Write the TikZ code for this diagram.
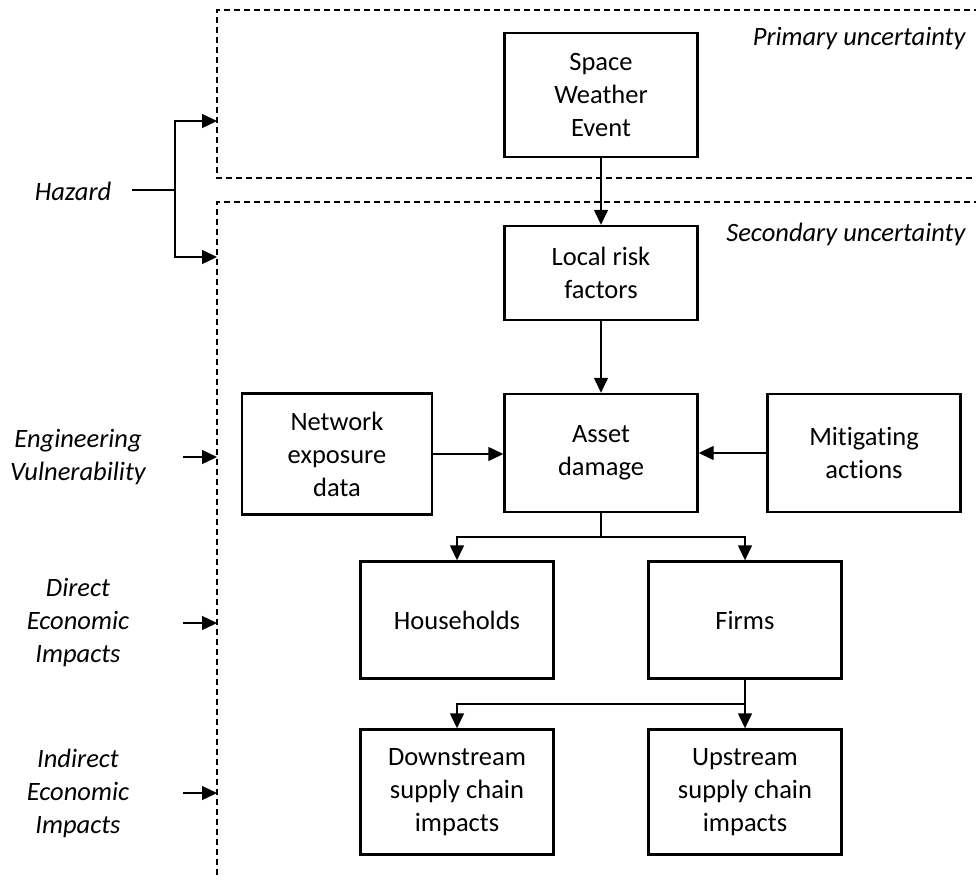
\documentclass[tikz,border=0pt]{standalone}
\usepackage{fontspec}
\setmainfont{Carlito}[Ligatures=NoCommon]
\usetikzlibrary{arrows.meta}

\begin{document}
\begin{tikzpicture}[
            x=1pt, y=-1pt,
            every node/.append style={black,font=\fontsize{26.5}{33}\selectfont},
            stage/.style={draw,line width=2.4pt,align=center,minimum width=193pt,inner sep=0pt},
            zone/.style={draw,line width=1.2pt,dash pattern=on 6pt off 4pt},
            level/.style={align=center,font=\fontsize{26.5}{33}\selectfont\itshape},
            link/.style={line width=1.4pt},
            tip/.style={link,-{Triangle[length=15pt,width=14pt]}}
        ]
            \clip (0,0) rectangle (976,880);
            % uncertainty zones
            \draw[zone] (990,10) -- (217,10) -- (217,178) -- (990,178);
            \draw[zone] (990,202) -- (217,202) -- (217,878);
            \node[level,anchor=east] (primarylabel) at (969,39) {Primary uncertainty};
            \node[level,anchor=east] (secondarylabel) at (969,234) {Secondary uncertainty};

            % chain of boxes
            \node[stage,minimum height=124pt] (event) at (601,95) {Space\\Weather\\Event};
            \node[stage,minimum height=94pt] (risk) at (601,273) {Local risk\\factors};
            \node[stage,minimum height=118pt] (damage) at (601,453) {Asset\\damage};
            \node[stage,minimum width=190pt,minimum height=121pt] (network) at (337,454) {Network\\exposure\\data};
            \node[stage,minimum height=118pt] (mitigation) at (864,453) {Mitigating\\actions};
            \node[stage,minimum height=117pt] (households) at (457,620) {Households};
            \node[stage,minimum height=117pt] (firms) at (745,620) {Firms};
            \node[stage,minimum height=125pt] (downstream) at (457,792) {Downstream\\supply chain\\impacts};
            \node[stage,minimum height=125pt] (upstream) at (745,792) {Upstream\\supply chain\\impacts};

            \draw[tip] (event) -- (risk);
            \draw[tip] (risk) -- (damage);
            \draw[tip] (network.east) -- (network.east -| damage.west);
            \draw[tip] (mitigation.west) -- (mitigation.west -| damage.east);
            \coordinate (split) at (601,537);
            \draw[link] (damage) -- (split);
            \draw[tip] (split) -| (households);
            \draw[tip] (split) -| (firms);
            \coordinate (supply) at (745,704);
            \draw[tip] (firms) -- (upstream);
            \draw[tip] (supply) -| (downstream);

            % levels on the left
            \node[level] (hazard) at (73,191) {Hazard};
            \node[level] (engineering) at (78,457) {Engineering\\Vulnerability};
            \node[level] (direct) at (78,623) {Direct\\Economic\\Impacts};
            \node[level] (indirect) at (78,793) {Indirect\\Economic\\Impacts};

            \coordinate (gutter) at (183,0);
            \coordinate (edge) at (217,0);
            \coordinate (hazardout) at (132,190);
            \coordinate (fork) at (175,190);
            \coordinate (primary) at (217,121);
            \coordinate (secondary) at (217,257);
            \draw[link] (hazardout) -- (fork);
            \draw[tip] (fork) |- (primary);
            \draw[tip] (fork) |- (secondary);
            \draw[tip] (engineering -| gutter) -- (engineering -| edge);
            \draw[tip] (direct -| gutter) -- (direct -| edge);
            \draw[tip] (indirect -| gutter) -- (indirect -| edge);
        \end{tikzpicture}
\end{document}
